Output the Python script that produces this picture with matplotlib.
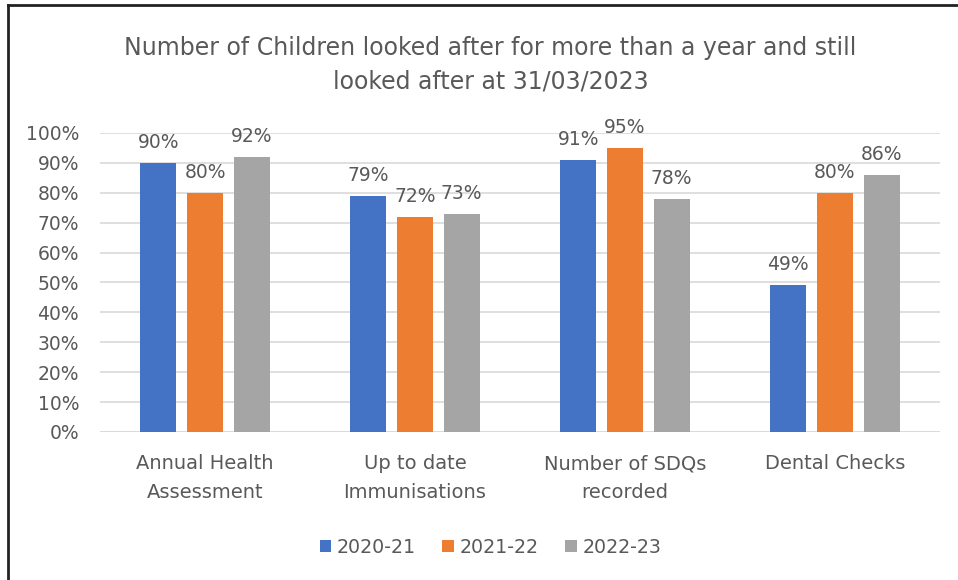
import matplotlib.pyplot as plt
from matplotlib.lines import Line2D
import numpy as np

plt.rcParams['font.family'] = ['DejaVu Sans']

# Data
categories = ['Annual Health\nAssessment', 'Up to date\nImmunisations',
              'Number of SDQs\nrecorded', 'Dental Checks']
series = ['2020-21', '2021-22', '2022-23']
v2020 = [90, 79, 91, 49]
v2021 = [80, 72, 95, 80]
v2022 = [92, 73, 78, 86]
colors = ['#4472C4', '#ED7D31', '#A5A5A5']
title = 'Number of Children looked after for more than a year and still\nlooked after at 31/03/2023'

fig = plt.figure(figsize=(9.58, 5.80), dpi=100)
ax = fig.add_axes([0.1044, 0.2552, 0.8768, 0.5155])

x = np.arange(len(categories))
width = 0.172
offset = 0.222
text_col = '#595959'

for i, (vals, name, col) in enumerate(zip([v2020, v2021, v2022], series, colors)):
    pos = x + (i - 1) * offset
    bars = ax.bar(pos, np.array(vals) / 100, width, color=col, label=name, zorder=2)
    for b, v in zip(bars, vals):
        ax.annotate('{}%'.format(v), (b.get_x() + b.get_width() / 2, b.get_height()),
                    xytext=(0, 8), textcoords='offset points', ha='center', va='bottom',
                    fontsize=13.5, color=text_col, annotation_clip=False)

ax.set_xlim(-0.5, len(categories) - 0.5)
ax.set_ylim(0, 1.0)
ax.set_yticks(np.arange(0, 1.01, 0.1))
ax.set_yticklabels(['{}%'.format(int(round(t * 100))) for t in np.arange(0, 1.01, 0.1)])
ax.set_xticks(x)
ax.set_xticklabels(categories, linespacing=1.65, fontsize=14)
ax.tick_params(axis='both', length=0, colors=text_col)
ax.tick_params(axis='y', labelsize=13.5, pad=15)
ax.tick_params(axis='x', pad=16)
ax.yaxis.grid(True, color='#D9D9D9', lw=1.2, zorder=0)
for s in ax.spines.values():
    s.set_visible(False)
ax.axhline(0, color='#D9D9D9', lw=1.2, zorder=1)

fig.text(0.512, 0.888, title, ha='center', va='center', fontsize=17,
         color=text_col, linespacing=1.52)

fig.legend(loc='center', bbox_to_anchor=(0.512, 0.056), ncol=3, frameon=False,
           fontsize=13.7, handlelength=0.6, handleheight=0.6, handletextpad=0.3,
           columnspacing=1.4, labelcolor=text_col)

# outer frame (left and top edges visible)
fig.add_artist(Line2D([8 / 958, 8 / 958], [0, 1 - 5 / 580], color='#222222', lw=2,
                      transform=fig.transFigure))
fig.add_artist(Line2D([8 / 958, 1], [1 - 5 / 580, 1 - 5 / 580], color='#222222', lw=2,
                      transform=fig.transFigure))

fig.savefig('out.png', dpi=100)
